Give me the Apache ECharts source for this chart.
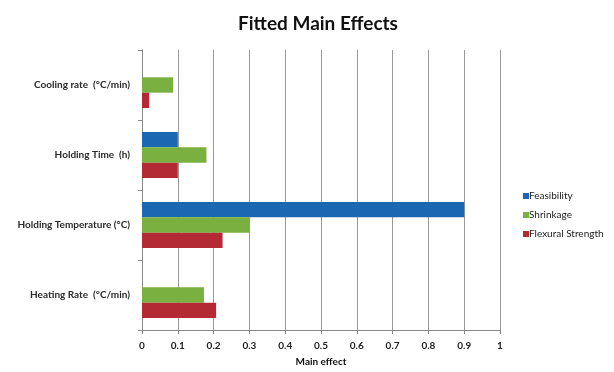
<!DOCTYPE html>
<html><head><meta charset="utf-8">
<script src="https://cdn.jsdelivr.net/npm/echarts@6/dist/echarts.min.js"></script>
<style>html,body{margin:0;padding:0;background:#fff}#c{width:614px;height:372px}</style>
</head><body><div id="c"></div>
<script>
const categories = ['Heating Rate  (°C/min)', 'Holding Temperature (°C)', 'Holding Time  (h)', 'Cooling rate  (°C/min)'];
const feasibility = [null, 0.9, 0.1, null];
const shrinkage = [0.173, 0.3, 0.18, 0.087];
const flexural = [0.207, 0.225, 0.1, 0.02];
const xTicks = [0, 0.1, 0.2, 0.3, 0.4, 0.5, 0.6, 0.7, 0.8, 0.9, 1];

const chart = echarts.init(document.getElementById('c'));
const font = 'Lato, "Open Sans", sans-serif';
chart.setOption({
  animation: false,
  title: { text: 'Fitted Main Effects', left: 313, top: 9, textAlign: 'center',
    textStyle: { fontFamily: font, fontWeight: 'bold', fontSize: 19, color: '#111' } },
  legend: { orient: 'vertical', left: 518, top: 186, itemWidth: 6, itemHeight: 6, itemGap: 9,
    icon: 'rect', textStyle: { fontFamily: font, fontSize: 10, color: '#222', padding: [0,0,0,-5] } },
  grid: { left: 142, right: 114, top: 50, bottom: 39 },
  xAxis: { type: 'value', min: 0, max: 1, interval: 0.1,
    name: 'Main effect', nameLocation: 'middle', nameGap: 27,
    nameTextStyle: { fontFamily: font, fontWeight: 'bold', fontSize: 10, color: '#111' },
    axisLine: { show: true, lineStyle: { color: '#888' } },
    axisTick: { show: true, length: 4, lineStyle: { color: '#888' } },
    axisLabel: { fontFamily: font, fontWeight: 'bold', fontSize: 10, color: '#222', margin: 11,
      formatter: v => { const t = xTicks.find(x => Math.abs(x - v) < 1e-9); return t === undefined ? '' : String(t); } },
    splitLine: { show: true, lineStyle: { color: '#999', width: 1 } } },
  yAxis: { type: 'category', data: categories,
    axisLine: { show: true, lineStyle: { color: '#888' } },
    axisTick: { show: true, length: 4, lineStyle: { color: '#888' } },
    axisLabel: { fontFamily: font, fontWeight: 'bold', fontSize: 10, color: '#2a2a2a', margin: 12 },
    splitLine: { show: false } },
  series: [
    { name: 'Feasibility', type: 'bar', data: feasibility, itemStyle: { color: '#1B67B2' }, barGap: '0%', barCategoryGap: '34%' },
    { name: 'Shrinkage', type: 'bar', data: shrinkage, itemStyle: { color: '#79B03F' } },
    { name: 'Flexural Strength', type: 'bar', data: flexural, itemStyle: { color: '#B32A35' } }
  ]
});
</script></body></html>
